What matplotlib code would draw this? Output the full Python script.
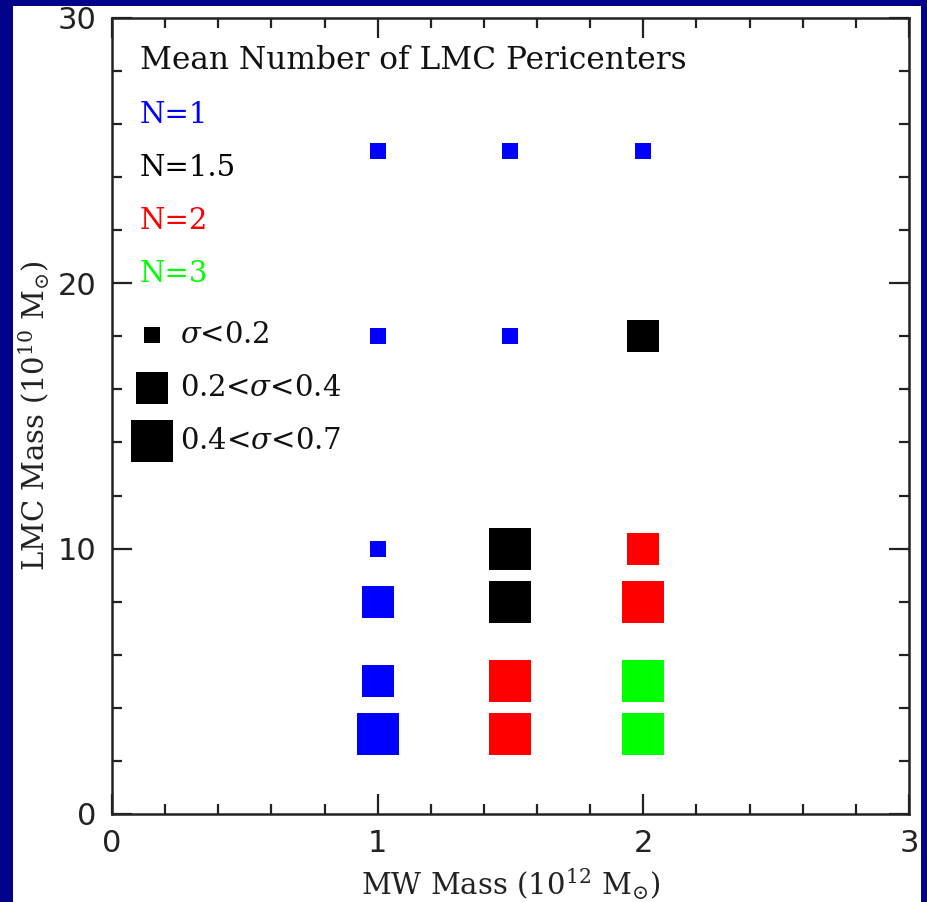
import matplotlib
matplotlib.use("Agg")
import matplotlib.pyplot as plt
from matplotlib.patches import Rectangle
from matplotlib.ticker import MultipleLocator

# LMC pericenter grid
mw_mass = [1, 1.5, 2, 1, 1.5, 2, 1, 1.5, 2, 1, 1.5, 2, 1, 1.5, 2, 1, 1.5, 2]
lmc_mass = [25, 25, 25, 18, 18, 18, 10, 10, 10, 8, 8, 8, 5, 5, 5, 3, 3, 3]
n_peri = [1, 1, 1, 1, 1, 1.5, 1, 1.5, 2, 1, 1.5, 2, 1, 2, 3, 1, 2, 3]
sigma_bin = [0, 0, 0, 0, 0, 1, 0, 2, 1, 1, 2, 2, 1, 2, 2, 2, 2, 2]

n_labels = ["N=1", "N=1.5", "N=2", "N=3"]
n_values = [1, 1.5, 2, 3]
n_colors = ["#0000ff", "#000000", "#ff0000", "#00ff00"]
sigma_labels = [r"$\sigma$<0.2", r"0.2<$\sigma$<0.4", r"0.4<$\sigma$<0.7"]
sigma_msize = [11.5, 22.7, 30.2]   # marker size in points

plt.rcParams["mathtext.fontset"] = "dejavuserif"

fig = plt.figure(figsize=(9.28, 9.02), dpi=100)
fig.patch.set_facecolor("#02028a")
fig.add_artist(Rectangle((0.014, 0.0), 0.978, 0.993, transform=fig.transFigure,
                         facecolor="white", edgecolor="none", zorder=-5))

ax = fig.add_axes([0.1207, 0.0976, 0.8588, 0.8825])
ax.set_facecolor("none")
ax.set_xlim(0, 3)
ax.set_ylim(0, 30)

color_of = dict(zip(n_values, n_colors))
for x, y, n, s in zip(mw_mass, lmc_mass, n_peri, sigma_bin):
    ax.plot(x, y, marker="s", linestyle="none", markersize=sigma_msize[s],
            color=color_of[n], markeredgewidth=0)

# legend drawn as text inside the axes
serif = "DejaVu Serif"
fs = 21
ax.text(0.105, 28.4, "Mean Number of LMC Pericenters", fontsize=22.5, family=serif,
        va="center", ha="left", color="#111111")
for i, (lab, c) in enumerate(zip(n_labels, n_colors)):
    ax.text(0.105, 26.35 - 2 * i, lab, fontsize=fs, family=serif, color=c,
            va="center", ha="left")
for i, (lab, ms) in enumerate(zip(sigma_labels, sigma_msize)):
    yy = 18.05 - 2 * i
    ax.plot(0.15, yy, marker="s", linestyle="none", markersize=ms, color="black",
            markeredgewidth=0)
    ax.text(0.255, yy, lab, fontsize=fs, family=serif, va="center", ha="left",
            color="#111111")

ax.xaxis.set_major_locator(MultipleLocator(1))
ax.xaxis.set_minor_locator(MultipleLocator(0.2))
ax.yaxis.set_major_locator(MultipleLocator(10))
ax.yaxis.set_minor_locator(MultipleLocator(2))
ax.tick_params(which="both", direction="in", top=True, right=True, width=1.6,
               labelsize=22, color="#222222", labelcolor="#222222")
ax.tick_params(which="major", length=14.4, pad=11)
ax.tick_params(which="minor", length=7.5)
for sp in ax.spines.values():
    sp.set_linewidth(1.8)
    sp.set_color("#222222")

ax.set_xlabel(r"MW Mass (10$^{12}$ M$_{\odot}$)", fontsize=fs, family=serif, labelpad=6,
              color="#222222")
ax.set_ylabel(r"LMC Mass (10$^{10}$ M$_{\odot}$)", fontsize=fs, family=serif, labelpad=4,
              color="#222222")

fig.savefig("out.png", dpi=100, facecolor=fig.get_facecolor())
